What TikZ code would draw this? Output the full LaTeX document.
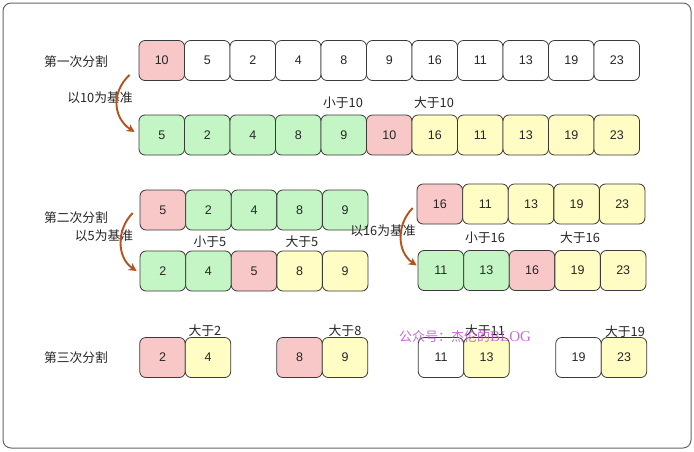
\documentclass[tikz,border=0pt]{standalone}
\usepackage{fontspec}
\setmainfont{Liberation Sans}
\newfontfamily\cjk{Noto Sans CJK SC}
\newfontfamily\wmserif{Liberation Serif}
\usetikzlibrary{arrows.meta}
\definecolor{pinkf}{HTML}{F8C8C8}
\definecolor{greenf}{HTML}{C4F5C4}
\definecolor{yellowf}{HTML}{FFFDC4}
\definecolor{edge}{HTML}{3A3A3A}
\definecolor{arrowc}{HTML}{B5521E}
\definecolor{wm}{HTML}{C050D0}
\tikzset{
  cell/.style={draw=edge, line width=0.8pt, rounded corners=6pt, minimum width=45.5pt, minimum height=40pt, inner sep=0pt, font=\fontsize{12.5}{14}\selectfont, text=black!85},
  pk/.style={cell, fill=pinkf},
  gr/.style={cell, fill=greenf},
  yl/.style={cell, fill=yellowf},
  wh/.style={cell, fill=white},
  lbl/.style={font=\cjk\fontsize{12.8}{14}\selectfont, text=black!85, inner sep=0pt},
  curvearrow/.style={draw=arrowc, line width=1.9pt, -{Stealth[length=8pt,width=8pt]}}
}
\begin{document}
\begin{tikzpicture}[x=1pt,y=-1pt]
\useasboundingbox (0,0) rectangle (694,451);
\draw[draw=black!60, line width=1pt, rounded corners=8pt, fill=white] (3,3) rectangle (691,448);

% Row 1
\foreach \v [count=\i] in {10,5,2,4,8,9,16,11,13,19,23} {
  \ifnum\i=1 \def\st{pk}\else\def\st{wh}\fi
  \node[\st] (a\i) at ({139+45.5*(\i-0.5)},60.5) {\v};
}
% Row 2
\foreach \v/\st [count=\i] in {5/gr,2/gr,4/gr,8/gr,9/gr,10/pk,16/yl,11/yl,13/yl,19/yl,23/yl} {
  \node[\st] (b\i) at ({139+45.5*(\i-0.5)},135) {\v};
}
% Row 3 left
\foreach \v/\st [count=\i] in {5/pk,2/gr,4/gr,8/gr,9/gr} {
  \node[\st] (c\i) at ({140+45.6*(\i-0.5)},210) {\v};
}
% Row 3 right
\foreach \v/\st [count=\i] in {16/pk,11/yl,13/yl,19/yl,23/yl} {
  \node[\st] (d\i) at ({417+45.6*(\i-0.5)},204) {\v};
}
% Row 4 left
\foreach \v/\st [count=\i] in {2/gr,4/gr,5/pk,8/yl,9/yl} {
  \node[\st] (e\i) at ({140+45.6*(\i-0.5)},271) {\v};
}
% Row 4 right
\foreach \v/\st [count=\i] in {11/gr,13/gr,16/pk,19/yl,23/yl} {
  \node[\st] (f\i) at ({418+45.6*(\i-0.5)},270.5) {\v};
}
% Row 5
\node[pk] (g1) at (162.5,357.5) {2};
\node[yl] (g2) at (208,357.5) {4};
\node[pk] (g3) at (299.5,357.5) {8};
\node[yl] (g4) at (345,357.5) {9};
\node[wh] (g5) at (441,357.5) {11};
\node[yl] (g6) at (486.5,357.5) {13};
\node[wh] (g7) at (578.5,357.5) {19};
\node[yl] (g8) at (624,357.5) {23};

% Labels
\node[lbl] (l1) at (76,62) {第一次分割};
\node[lbl] (l2) at (76,218) {第二次分割};
\node[lbl] (l3) at (76,358) {第三次分割};
\node[lbl] (p1) at (100,98) {以10为基准};
\node[lbl] (p2) at (104,236) {以5为基准};
\node[lbl] (p3) at (383,231) {以16为基准};
\node[lbl] (s1) at (343,103) {小于10};
\node[lbl] (s2) at (434,103) {大于10};
\node[lbl] (s3) at (210,242) {小于5};
\node[lbl] (s4) at (302,242) {大于5};
\node[lbl] (s5) at (485,238) {小于16};
\node[lbl] (s6) at (580,238) {大于16};
\node[lbl] (s7) at (205,331) {大于2};
\node[lbl] (s8) at (345,331) {大于8};
\node[lbl] (s9) at (485,331) {大于11};
\node[lbl] (s10) at (625,332) {大于19};

% Watermark
\node[inner sep=0pt, text=wm, opacity=0.85, anchor=west] (wmk) at (399,337)
  {{\cjk\fontsize{13}{15}\selectfont 公众号：杰伦的}{\wmserif\fontsize{15}{17}\selectfont BLOG}};

% Arrows
\draw[curvearrow] ([xshift=-9pt,yshift=6pt]a1.south west) .. controls (111,92) and (113,118) .. ([xshift=-4pt,yshift=3pt]b1.west);
\draw[curvearrow] ([xshift=-7pt,yshift=-3pt]c1.west) .. controls (116,230) and (117,258) .. ([xshift=-3pt]e1.west);
\draw[curvearrow] ([xshift=-4pt,yshift=-4pt]d1.west) .. controls (396,225) and (397,252) .. ([xshift=-1pt,yshift=5pt]f1.west);
\end{tikzpicture}
\end{document}
